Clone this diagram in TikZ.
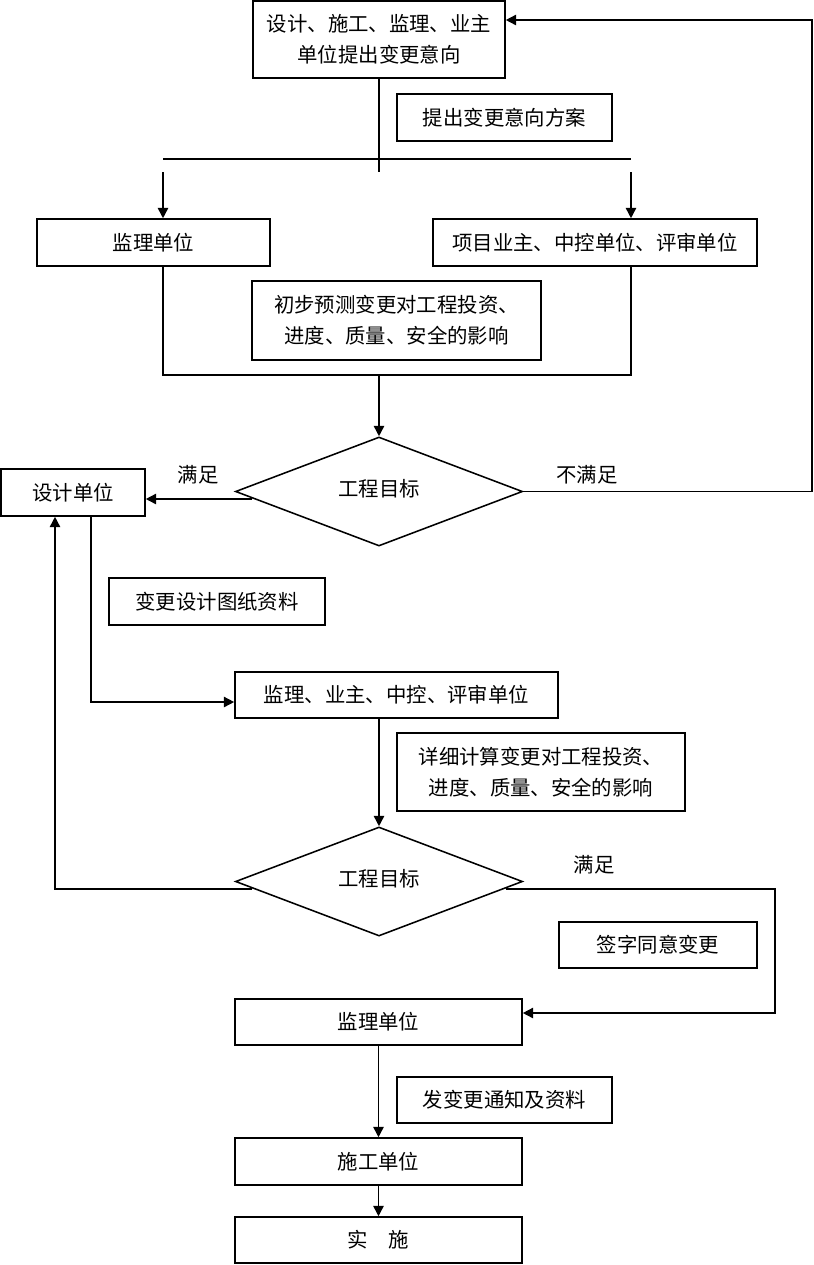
\documentclass[tikz,border=0pt]{standalone}
\usepackage{fontspec}
\setmainfont{Noto Sans CJK SC}
\usetikzlibrary{positioning,calc}
\usetikzlibrary{arrows.meta,shapes.geometric}

\begin{document}
\begin{tikzpicture}[> = {Triangle[length=2.6mm,width=2.6mm]}, x = 0.025cm, y = -0.025cm, line width = 1.1pt]
\tikzstyle{box}=[
  draw = black,
  line width = 1.1pt,
  align = center,
  inner sep = 0pt,
  font = \fontsize{14.5}{22}\selectfont
]
\tikzstyle{test}=[
  diamond,
  draw = black,
  line width = 1.1pt,
  inner sep = 0pt,
  minimum width = 7.175cm,
  minimum height = 2.725cm,
  font = \fontsize{14.5}{22}\selectfont
]
\tikzstyle{lbl}=[font = \fontsize{14.5}{22}\selectfont]

\useasboundingbox (0,0) rectangle (814,1265);

% boxes
\node[box, minimum width = 6.3cm, minimum height = 1.925cm] (A) at (379,39.5) {设计、施工、监理、业主\\单位提出变更意向};
\node[box, minimum width = 5.375cm, minimum height = 1.175cm] (tA) at (504.5,117.5) {提出变更意向方案};
\node[box, minimum width = 5.825cm, minimum height = 1.175cm] (B1) at (153.5,242.5) {监理单位};
\node[box, minimum width = 8.1cm, minimum height = 1.175cm] (B2) at (595,242.5) {项目业主、中控单位、评审单位};
\node[box, minimum width = 7.225cm, minimum height = 1.975cm] (tB) at (396.5,320.5) {初步预测变更对工程投资、\\进度、质量、安全的影响};
\node[test] (D1) at (379,491.5) {\raisebox{0.2cm}{工程目标}};
\node[box, minimum width = 3.6cm, minimum height = 1.175cm] (C) at (73,492.5) {设计单位};
\node[box, minimum width = 5.4cm, minimum height = 1.175cm] (tC) at (217,601.5) {变更设计图纸资料};
\node[box, minimum width = 8.075cm, minimum height = 1.15cm] (E) at (396.5,695) {监理、业主、中控、评审单位};
\node[box, minimum width = 7.2cm, minimum height = 1.95cm] (tE) at (541,772) {详细计算变更对工程投资、\\进度、质量、安全的影响};
\node[test] (D2) at (379,881.5) {\raisebox{0.2cm}{工程目标}};
\node[box, minimum width = 4.95cm, minimum height = 1.15cm] (tD) at (658,945) {签字同意变更};
\node[box, minimum width = 7.175cm, minimum height = 1.15cm] (F) at (378.5,1022) {监理单位};
\node[box, minimum width = 5.375cm, minimum height = 1.15cm] (tF) at (504.5,1100) {发变更通知及资料};
\node[box, minimum width = 7.175cm, minimum height = 1.175cm] (G) at (378.5,1161.5) {施工单位};
\node[box, minimum width = 7.175cm, minimum height = 1.15cm] (H) at (378.5,1240) {实\hspace{1em}施};

% labels
\node[lbl] (ok1) at (198,475) {满足};
\node[lbl] (no1) at (587,475) {不满足};
\node[lbl] (ok2) at (594,865) {满足};

% helper points
\coordinate (split) at (379,172);
\coordinate (hl) at (163,159);
\coordinate (hr) at (631,159);
\coordinate (al) at (163,172);
\coordinate (ar) at (631,172);
\coordinate (ml) at (163,375);
\coordinate (mr) at (631,375);
\coordinate (mm) at (379,375);
\coordinate (back) at (812,20);
\coordinate (ys) at (252,499);
\coordinate (cl) at (91,702);
\coordinate (dls) at (252,889);
\coordinate (dl) at (55,889);
\coordinate (drs) at (506,889);
\coordinate (dr) at (775,889);
\coordinate (dr2) at (775,1013);

% connectors
\draw (A.south) -- (split);
\draw (hl) -- (hr);
\draw[->] (al) -- (al |- B1.north);
\draw[->] (ar) -- (ar |- B2.north);
\draw (ml |- B1.south) -- (ml) -- (mr) -- (mr |- B2.south);
\draw[->] (mm) -- (D1.north);
\draw[->] (D1.east) -- (back |- D1.east) -- (back) -- (back -| A.east);
\draw[->] (ys) -- (ys -| C.east);
\draw[->] (cl |- C.south) -- (cl) -- (cl -| E.west);
\draw[->] (D2.north |- E.south) -- (D2.north);
\draw[->] (dls) -- (dl) -- (dl |- C.south);
\draw[->] (drs) -- (dr) -- (dr2) -- (dr2 -| F.east);
\draw[->] (F.south) -- (G.north);
\draw[->] (G.south) -- (H.north);
\end{tikzpicture}
\end{document}
